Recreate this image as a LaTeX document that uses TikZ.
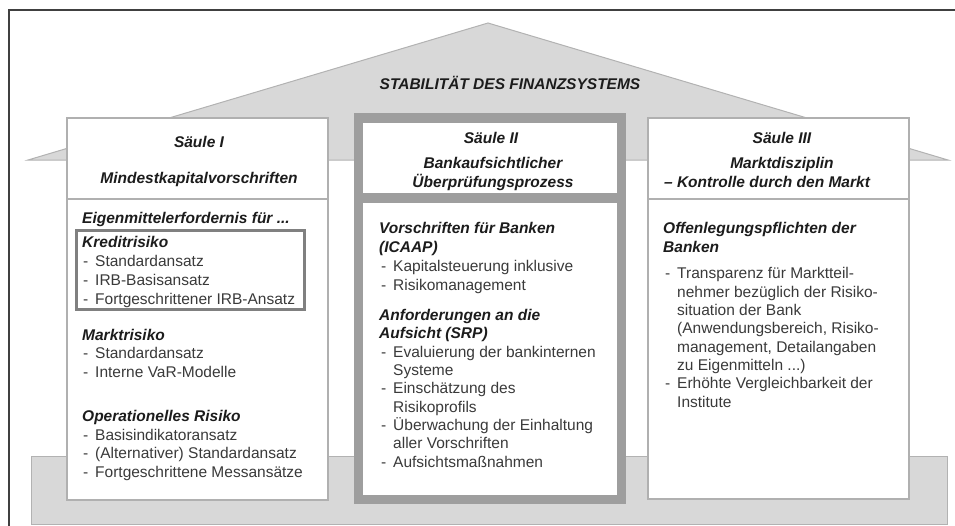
\documentclass[tikz,border=0pt]{standalone}
\usepackage{fontspec}
\setmainfont{Liberation Sans}
\definecolor{roofgray}{HTML}{D8D8D8}
\definecolor{roofedge}{HTML}{B2B2B2}
\definecolor{pillaredge}{HTML}{B0B0B0}
\definecolor{framegray}{HTML}{9E9E9E}
\definecolor{kredgray}{HTML}{808080}
\definecolor{bodytext}{HTML}{3A3A3A}
\definecolor{headtext}{HTML}{1C1C1C}
\newcommand\bitem[1]{\makebox[12pt][l]{-}#1}
\newcommand\bcont[1]{\hspace*{12pt}#1}
\begin{document}
\begin{tikzpicture}[x=1pt,y=-1pt,
  body/.style={font=\fontsize{15.5}{18}\selectfont, text=bodytext, anchor=base west, inner sep=0pt},
  headl/.style={font=\fontsize{15.5}{18}\selectfont\bfseries\itshape, text=headtext, anchor=base west, inner sep=0pt},
  headc/.style={headl, anchor=base},
  pillar/.style={fill=white, draw=pillaredge, line width=1.2pt}]
\useasboundingbox (0,0) rectangle (955,525);

% outer frame (top and left edges)
\draw[line width=1.5pt, black!75] (9,526) -- (9,10) -- (956,10);

% roof
\draw[fill=roofgray, draw=roofedge, line width=1pt] (28,160) -- (488,23) -- (948,160) -- cycle;
% foundation
\draw[fill=roofgray, draw=roofedge, line width=1pt] (31,456) rectangle (947,524);

% pillar I
\draw[pillar] (67,118) rectangle (328,500);
\draw[draw=pillaredge, line width=1.2pt] (67,199) -- (328,199);
% pillar III
\draw[pillar] (648,118) rectangle (909,499);
\draw[draw=pillaredge, line width=1.2pt] (648,199) -- (909,199);
% pillar II with thick frame
\fill[framegray] (354,113) rectangle (626,504);
\fill[white] (363,123) rectangle (617,193);
\fill[white] (363,203) rectangle (617,495);

% credit risk frame
\draw[kredgray, line width=3pt] (76.5,230.5) rectangle (304.5,309.5);

% title
\node[headc] (title) at (510,89) {STABILITÄT DES FINANZSYSTEMS};

% pillar headers
\node[headc] (s1) at (199,147) {Säule I};
\node[headc] (s1t) at (199,183) {Mindestkapitalvorschriften};
\node[headc] (s2) at (491,143) {Säule II};
\node[headc] (s2a) at (493,168) {Bankaufsichtlicher};
\node[headc] (s2b) at (493,187) {Überprüfungsprozess};
\node[headc] (s3) at (782,143) {Säule III};
\node[headc] (s3a) at (782,168) {Marktdisziplin};
\node[headc] (s3b) at (767,187) {– Kontrolle durch den Markt};

% pillar I body
\node[headl] (eig) at (82,223) {Eigenmittelerfordernis für ...};
\node[headl] (kred) at (82,247) {Kreditrisiko};
\node[body] (k1) at (83,266) {\bitem{Standardansatz}};
\node[body] (k2) at (83,285) {\bitem{IRB-Basisansatz}};
\node[body] (k3) at (83,304) {\bitem{Fortgeschrittener IRB-Ansatz}};
\node[headl] (markt) at (82,340) {Marktrisiko};
\node[body] (m1) at (83,358) {\bitem{Standardansatz}};
\node[body] (m2) at (83,377) {\bitem{Interne VaR-Modelle}};
\node[headl] (oprisk) at (82,421) {Operationelles Risiko};
\node[body] (o1) at (83,440) {\bitem{Basisindikatoransatz}};
\node[body] (o2) at (83,458) {\bitem{(Alternativer) Standardansatz}};
\node[body] (o3) at (83,477) {\bitem{Fortgeschrittene Messansätze}};

% pillar II body
\node[headl] (vor) at (379,233) {Vorschriften für Banken};
\node[headl] (icaap) at (379,252) {(ICAAP)};
\node[body] (v1) at (381,271) {\bitem{Kapitalsteuerung inklusive}};
\node[body] (v2) at (381,290) {\bitem{Risikomanagement}};
\node[headl] (anf) at (379,320) {Anforderungen an die};
\node[headl] (srp) at (379,338) {Aufsicht (SRP)};
\node[body] (a1) at (381,357) {\bitem{Evaluierung der bankinternen}};
\node[body] (a1b) at (381,375) {\bcont{Systeme}};
\node[body] (a2) at (381,393) {\bitem{Einschätzung des}};
\node[body] (a2b) at (381,412) {\bcont{Risikoprofils}};
\node[body] (a3) at (381,430) {\bitem{Überwachung der Einhaltung}};
\node[body] (a3b) at (381,448) {\bcont{aller Vorschriften}};
\node[body] (a4) at (381,467) {\bitem{Aufsichtsmaßnahmen}};

% pillar III body
\node[headl] (off) at (663,233) {Offenlegungspflichten der};
\node[headl] (offb) at (663,252) {Banken};
\node[body] (t1) at (665,278) {\bitem{Transparenz für Marktteil-}};
\node[body] (t1b) at (665,297) {\bcont{nehmer bezüglich der Risiko-}};
\node[body] (t1c) at (665,315) {\bcont{situation der Bank}};
\node[body] (t1d) at (665,333) {\bcont{(Anwendungsbereich, Risiko-}};
\node[body] (t1e) at (665,352) {\bcont{management, Detailangaben}};
\node[body] (t1f) at (665,370) {\bcont{zu Eigenmitteln ...)}};
\node[body] (t2) at (665,388) {\bitem{Erhöhte Vergleichbarkeit der}};
\node[body] (t2b) at (665,407) {\bcont{Institute}};
\end{tikzpicture}
\end{document}
